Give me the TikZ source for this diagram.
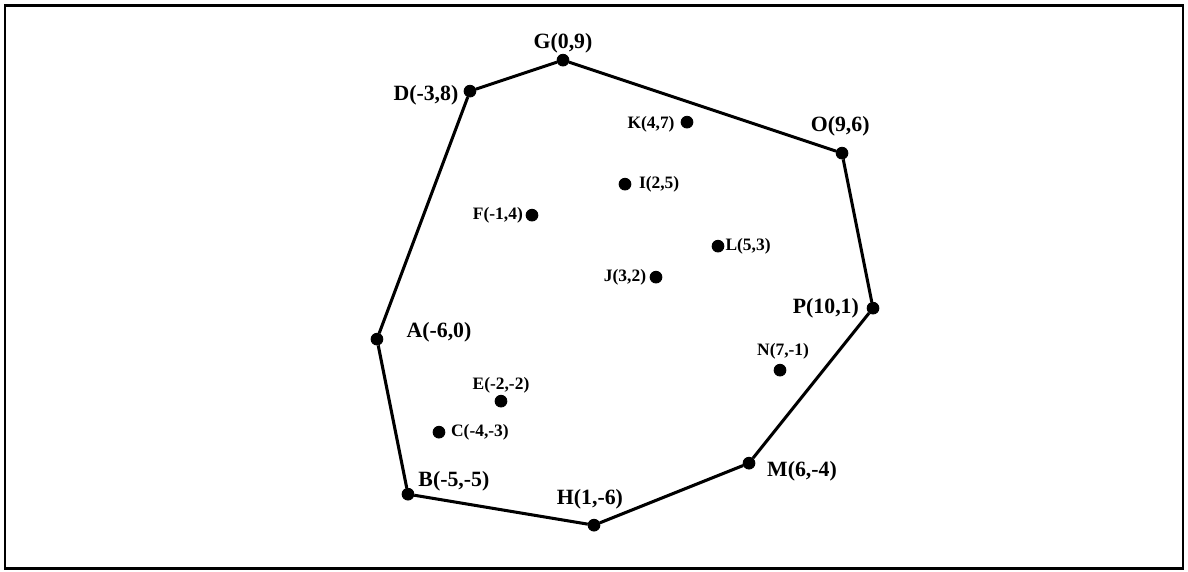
\documentclass[tikz,border=0pt]{standalone}
\usepackage{fontspec}
\setmainfont{Liberation Serif}
\tikzset{
  hullpt/.style={circle, draw, fill, inner sep=0pt, minimum size=1.9mm},
  innerpt/.style={circle, draw, fill, inner sep=0pt, minimum size=1.9mm},
  hulllabel/.style={font=\fontsize{10}{12}\selectfont\bfseries, inner sep=0pt},
  innerlabel/.style={font=\fontsize{8}{10}\selectfont\bfseries, inner sep=0pt},
  hulledge/.style={line width=1.4pt, black},
  frameline/.style={line width=1.3pt, black}
}
\begin{document}
\begin{tikzpicture}[x=0.5cm, y=0.5cm]
  \useasboundingbox (-18.16,-7.48) rectangle (20.16,10.94);
  \draw[frameline] (-18.0,10.77) rectangle (20.0,-7.39);

  % points on the hull, with label offsets
  \foreach \n/\x/\y/\dx/\dy in {G/0/9/0/0.55, D/-3/8/-1.42/-0.13, O/9/6/-0.06/0.87,
                                P/10/1/-1.52/0, A/-6/0/2.0/0.23, B/-5/-5/1.48/0.42,
                                H/1/-6/-0.13/0.84, M/6/-4/1.71/-0.26} {
    \node[hullpt] (\n) at (\x,\y) {};
    \node[hulllabel] (l\n) at (\x+\dx,\y+\dy) {\n(\x,\y)};
  }

  % points inside
  \foreach \n/\x/\y/\dx/\dy in {K/4/7/-1.16/-0.06, I/2/5/1.1/0, F/-1/4/-1.1/0,
                                L/5/3/0.97/0, J/3/2/-1.0/0, N/7/-1/0.1/0.61,
                                E/-2/-2/0/0.52, C/-4/-3/1.32/0} {
    \node[innerpt] (\n) at (\x,\y) {};
    \node[innerlabel] (l\n) at (\x+\dx,\y+\dy) {\n(\x,\y)};
  }

  \draw[hulledge] (G) -- (O) -- (P) -- (M) -- (H) -- (B) -- (A) -- (D) -- (G);
\end{tikzpicture}
\end{document}
